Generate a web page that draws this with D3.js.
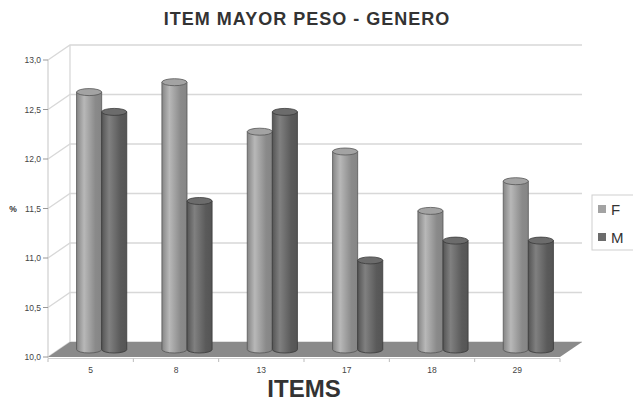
<!DOCTYPE html>
<html>
<head>
<meta charset="utf-8">
<script src="https://cdn.jsdelivr.net/npm/d3@7"></script>
<style>
  html, body { margin: 0; padding: 0; background: #fff; }
  svg { display: block; font-family: "Liberation Sans", Arial, sans-serif; }
</style>
</head>
<body>
<svg id="chart" width="633" height="403"></svg>
<script>
// Items on the x axis and the percentage per gender
const items = ["5", "8", "13", "17", "18", "29"];
const series = ["F", "M"];
const valuesF = [12.6, 12.7, 12.2, 12.0, 11.4, 11.7];
const valuesM = [12.4, 11.5, 12.4, 10.9, 11.1, 11.1];
const yTicks = [10.0, 10.5, 11.0, 11.5, 12.0, 12.5, 13.0];

const svg = d3.select("#chart");

// Front plane of the 3D box and its depth offset
const plotLeft = 48, plotRight = 560, plotBottom = 357, plotTop = 60;
const DX = 22, DY = -15;
const wallRight = 582;

const y = d3.scaleLinear().domain([10, 13]).range([plotBottom, plotTop]);
const x = d3.scaleBand().domain(items).range([plotLeft, plotRight]);
const xs = d3.scaleBand().domain(series).range([0, x.bandwidth()]).paddingOuter(0.7);

const colors = {
  F: { edge: "#858585", mid: "#b8b8b8", dark: "#8a8a8a", top: "#a3a3a3", stroke: "#555" },
  M: { edge: "#555555", mid: "#808080", dark: "#5a5a5a", top: "#6c6c6c", stroke: "#3a3a3a" }
};

const defs = svg.append("defs");
series.forEach(s => {
  const g = defs.append("linearGradient").attr("id", "cyl-" + s)
    .attr("x1", "0%").attr("x2", "100%").attr("y1", "0%").attr("y2", "0%");
  g.append("stop").attr("offset", "0%").attr("stop-color", colors[s].edge);
  g.append("stop").attr("offset", "30%").attr("stop-color", colors[s].mid);
  g.append("stop").attr("offset", "75%").attr("stop-color", colors[s].dark);
  g.append("stop").attr("offset", "100%").attr("stop-color", colors[s].edge);
});

// Title
svg.append("text")
  .attr("x", 307).attr("y", 25)
  .attr("text-anchor", "middle")
  .attr("font-size", 18).attr("font-weight", "bold").attr("fill", "#333")
  .attr("letter-spacing", 1)
  .text("ITEM MAYOR PESO - GENERO");

// Gridlines: front tick -> diagonal to back wall -> across the wall
const grid = svg.append("g").attr("fill", "none").attr("stroke", "#d8d8d8").attr("stroke-width", 1.3);
yTicks.forEach(t => {
  const yy = y(t);
  grid.append("path")
    .attr("d", `M${plotLeft},${yy}L${plotLeft + DX},${yy + DY}L${wallRight},${yy + DY}`);
});
// Back wall left edge and front vertical axis
grid.append("line").attr("x1", plotLeft + DX).attr("x2", plotLeft + DX)
  .attr("y1", y(13) + DY).attr("y2", y(10) + DY);
svg.append("line").attr("x1", plotLeft).attr("x2", plotLeft)
  .attr("y1", y(13)).attr("y2", y(10) + 1)
  .attr("stroke", "#cfcfcf").attr("stroke-width", 1.2);

// Y tick marks and labels
const fmt = v => d3.format(".1f")(v).replace(".", ",");
const yAxisG = svg.append("g");
yTicks.forEach(t => {
  yAxisG.append("line").attr("x1", plotLeft - 5).attr("x2", plotLeft)
    .attr("y1", y(t)).attr("y2", y(t)).attr("stroke", "#999");
  yAxisG.append("text").attr("x", plotLeft - 7).attr("y", y(t) + 3)
    .attr("text-anchor", "end").attr("font-size", 8.5).attr("fill", "#444")
    .text(fmt(t));
});
svg.append("text").attr("x", 13).attr("y", 212)
  .attr("text-anchor", "middle").attr("font-size", 8.5).attr("font-weight", "bold").attr("fill", "#333")
  .text("%");

// Floor
svg.append("path")
  .attr("d", `M${plotLeft},${plotBottom}L${plotRight},${plotBottom}L${plotRight + DX},${plotBottom + DY}L${plotLeft + DX},${plotBottom + DY}Z`)
  .attr("fill", "#8a8a8a");

// X axis line, ticks and labels
svg.append("line").attr("x1", plotLeft).attr("x2", plotRight)
  .attr("y1", plotBottom + 1.5).attr("y2", plotBottom + 1.5)
  .attr("stroke", "#cfcfcf").attr("stroke-width", 1.2);
d3.range(items.length + 1).forEach(i => {
  const xx = plotLeft + i * x.step();
  svg.append("line").attr("x1", xx).attr("x2", xx)
    .attr("y1", plotBottom + 1.5).attr("y2", plotBottom + 5).attr("stroke", "#bbb");
});
items.forEach(it => {
  svg.append("text").attr("x", x(it) + x.bandwidth() / 2).attr("y", 373)
    .attr("text-anchor", "middle").attr("font-size", 8.5).attr("fill", "#444")
    .text(it);
});
svg.append("text").attr("x", 304).attr("y", 397)
  .attr("text-anchor", "middle").attr("font-size", 24).attr("font-weight", "bold").attr("fill", "#333")
  .text("ITEMS");

// Cylinders, set at mid-depth of the box
const data = [];
items.forEach((it, i) => {
  data.push({ item: it, s: "F", v: valuesF[i] });
  data.push({ item: it, s: "M", v: valuesM[i] });
});
const ry = 3.5;
const bars = svg.append("g").selectAll("g").data(data).join("g")
  .attr("transform", `translate(${DX / 2},${DY / 2})`);
bars.each(function(d) {
  const g = d3.select(this);
  const x0 = x(d.item) + xs(d.s);
  const w = xs.bandwidth();
  const cx = x0 + w / 2;
  const yt = y(d.v), yb = y(10);
  const c = colors[d.s];
  // body with rounded bottom
  g.append("path")
    .attr("d", `M${x0},${yt}L${x0},${yb}A${w / 2},${ry} 0 0 0 ${x0 + w},${yb}L${x0 + w},${yt}Z`)
    .attr("fill", `url(#cyl-${d.s})`)
    .attr("stroke", c.stroke).attr("stroke-width", 0.8);
  // top cap
  g.append("ellipse").attr("cx", cx).attr("cy", yt).attr("rx", w / 2).attr("ry", ry)
    .attr("fill", c.top).attr("stroke", c.stroke).attr("stroke-width", 0.8);
});

// Legend
const lg = svg.append("g");
lg.append("rect").attr("x", 592).attr("y", 195).attr("width", 50).attr("height", 55)
  .attr("fill", "#fff").attr("stroke", "#cfcfcf");
series.forEach((s, i) => {
  const yy = 205 + i * 28;
  lg.append("rect").attr("x", 598).attr("y", yy).attr("width", 8).attr("height", 8)
    .attr("fill", colors[s].top);
  lg.append("text").attr("x", 611).attr("y", yy + 9.5)
    .attr("font-size", 15).attr("fill", "#333").text(s);
});
</script>
</body>
</html>
